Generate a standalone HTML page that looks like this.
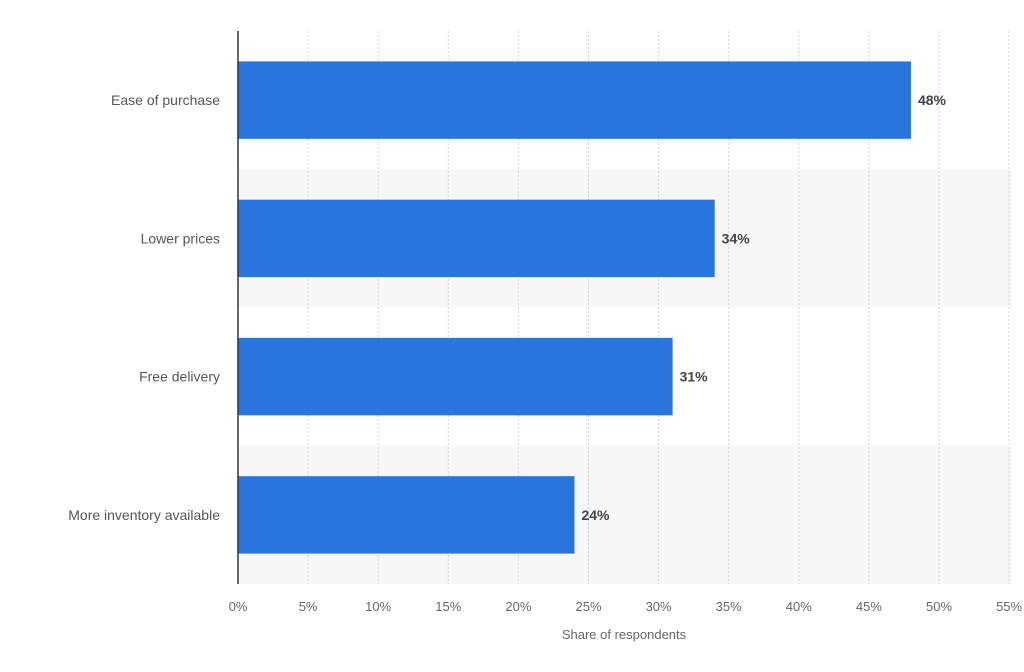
<!DOCTYPE html>
<html><head><meta charset="utf-8"><style>
html,body{margin:0;padding:0;background:#fff;width:1024px;height:672px;overflow:hidden}
text{font-family:"Liberation Sans",sans-serif}
</style></head><body>
<svg id="chart" width="1024" height="672" xmlns="http://www.w3.org/2000/svg"></svg>
<script>
const categories=["Ease of purchase","Lower prices","Free delivery","More inventory available"];
const values=[48,34,31,24];
const ticks=[0,5,10,15,20,25,30,35,40,45,50,55];
const tickLabels=["0%","5%","10%","15%","20%","25%","30%","35%","40%","45%","50%","55%"];
const NS="http://www.w3.org/2000/svg";
const svgEl=document.getElementById('chart');
const x0=238,pxPer=14.02,plotTop=31,plotBottom=584;
const band=(plotBottom-plotTop)/categories.length;
const xs=v=>x0+v*pxPer;
function mk(t,a){const e=document.createElementNS(NS,t);for(const k in a)e.setAttribute(k,a[k]);svgEl.appendChild(e);return e;}
categories.forEach((c,i)=>{if(i%2==1){const r=mk('rect',{x:x0,y:plotTop+i*band,width:1012-x0,height:band,fill:'#f7f7f7'});

}});
ticks.forEach((t,i)=>{if(t>0){const l=mk('line',{x1:xs(t),x2:xs(t),y1:plotTop,y2:plotBottom,stroke:'#d4d4d4','stroke-dasharray':'2,2'});

}
const tx=mk('text',{x:xs(t),y:611,'text-anchor':'middle','font-size':13,fill:'#666'});tx.textContent=tickLabels[i];

});
categories.forEach((c,i)=>{const y=plotTop+i*band;const bh=band*0.56;const by=y+(band-bh)/2;
const r=mk('rect',{x:x0,y:by,width:xs(values[i])-x0,height:bh,fill:'#2876dd'});


const l=mk('text',{x:220,y:by+bh/2+5,'text-anchor':'end','font-size':14,fill:'#555'});l.textContent=c;


const v=mk('text',{x:xs(values[i])+7,y:by+bh/2+5,'font-size':14,'font-weight':'bold',fill:'#444'});v.textContent=values[i]+'%';

});
const ax=mk('line',{x1:x0,x2:x0,y1:plotTop,y2:plotBottom,stroke:'#333','stroke-width':1.5});


const at=mk('text',{x:624,y:639,'text-anchor':'middle','font-size':13,fill:'#666'});at.textContent='Share of respondents';


</script>
</body></html>
